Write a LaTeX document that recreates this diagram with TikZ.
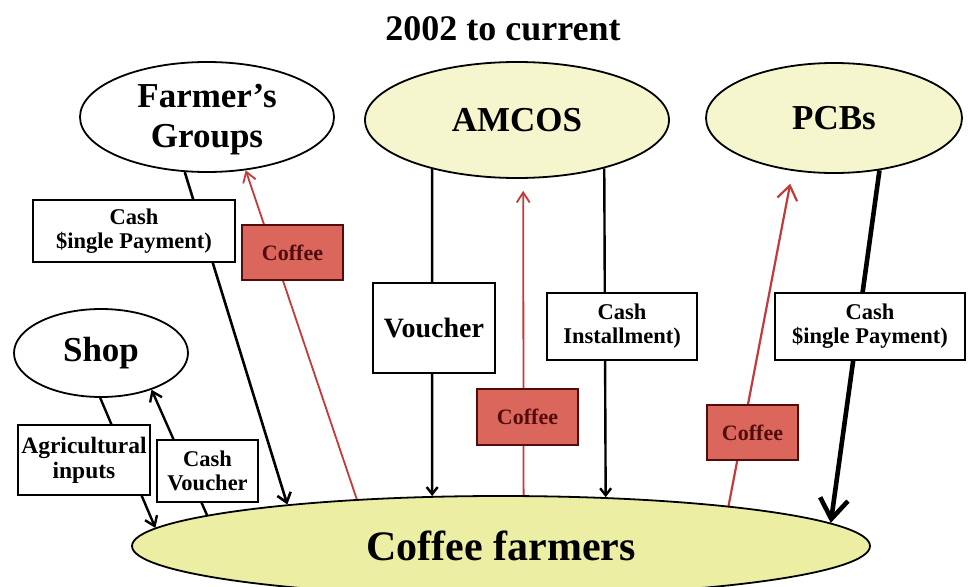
\documentclass[tikz,border=0pt]{standalone}
\usepackage{fontspec}
\setmainfont{Liberation Serif}
\usetikzlibrary{shapes.geometric,arrows.meta,backgrounds}
\definecolor{paleyellow}{RGB}{246,246,206}
\definecolor{farmyellow}{RGB}{236,238,164}
\definecolor{coffeered}{RGB}{218,102,92}
\definecolor{coffeeline}{RGB}{196,58,58}
\definecolor{coffeetext}{RGB}{82,12,12}

\begin{document}
\begin{tikzpicture}[x=1pt,y=-1pt,
  actor/.style={ellipse,draw=black,line width=1.8pt,inner sep=0pt,
    font=\fontsize{35}{40}\selectfont\bfseries,align=center},
  labelbox/.style={draw=black,line width=1.6pt,fill=white,inner sep=0pt,
    font=\fontsize{22.5}{24}\selectfont\bfseries,align=center},
  coffeebox/.style={draw=coffeetext,line width=1.6pt,fill=coffeered,
    text=coffeetext,inner sep=0pt,font=\fontsize{22}{24}\selectfont\bfseries},
  flow/.style={line width=2.6pt,-{Straight Barb[length=9pt,width=14pt]}},
  goods/.style={draw=coffeeline,line width=1.8pt,-{Straight Barb[length=10pt,width=13pt]}},
]
\useasboundingbox (0,0) rectangle (968,586);

% title
\node[font=\fontsize{36}{40}\selectfont\bfseries] (title) at (503,29) {2002 to current};

% actors
\node[actor,fill=white,minimum width=254pt,minimum height=110pt] (fg) at (207,117) {};
\node[font=\fontsize{35}{40}\selectfont\bfseries,align=center] (fgtext) at (207,120) {Farmer’s\\Groups};
\node[actor,fill=paleyellow,minimum width=304pt,minimum height=116pt] (amcos) at (517,120) {AMCOS};
\node[actor,fill=paleyellow,minimum width=256pt,minimum height=110pt] (pcb) at (834,118) {PCBs};
\node[actor,fill=white,minimum width=174pt,minimum height=88pt] (shop) at (101,353) {Shop};
\node[actor,fill=farmyellow,minimum width=738pt,minimum height=100pt,
  font=\fontsize{42}{46}\selectfont\bfseries] (cf) at (501,546) {Coffee farmers};

% labels on the flows
\node[labelbox,minimum width=202pt,minimum height=62pt] (cashL) at (134,231)
  {Cash\\\$ingle Payment)};
\node[coffeebox,minimum width=101pt,minimum height=55pt] (coffeeA) at (292.5,252.5) {Coffee};
\node[labelbox,minimum width=122pt,minimum height=90pt,
  font=\fontsize{28}{30}\selectfont\bfseries] (voucher) at (434,328) {Voucher};
\node[labelbox,minimum width=150pt,minimum height=67pt] (cashI) at (622,326.5)
  {Cash\\Installment)};
\node[coffeebox,minimum width=101pt,minimum height=56pt] (coffeeB) at (527.5,417) {Coffee};
\node[labelbox,minimum width=190pt,minimum height=67pt] (cashR) at (870,326.5)
  {Cash\\\$ingle Payment)};
\node[coffeebox,minimum width=91pt,minimum height=55pt] (coffeeC) at (752.5,432.5) {Coffee};
\node[labelbox,minimum width=132pt,minimum height=70pt,
  font=\fontsize{23.5}{25}\selectfont\bfseries] (agri) at (84,460)
  {Agricultural\\inputs};
\node[labelbox,minimum width=101pt,minimum height=62pt] (cashV) at (207.5,471)
  {Cash\\Voucher};

% flows, drawn beneath the nodes
\begin{pgfonlayer}{background}
  \fill[white] (0,0) rectangle (968,586);
  % Farmer's Groups
  \draw[flow] (fg.-112.1) -- (cf.169.2);
  \draw[goods] (cf.162.8) -- (fg.-54.1);
  % AMCOS
  \draw[line width=2.4pt,-{Straight Barb[length=7pt,width=11pt]}] (amcos.-150.1) -- (cf.144.2);
  \draw[line width=2.4pt,-{Straight Barb[length=7pt,width=11pt]}] (amcos.-29.5) -- (cf.25.5);
  \draw[goods,shorten >=12pt] (cf.66.2) -- (amcos.-84.1);
  % PCBs
  \draw[goods,line width=2.2pt,-{Straight Barb[length=14pt,width=20pt]},shorten >=13pt] (cf.10.2) -- (pcb.-128.9);
  \draw[line width=4.6pt,-{Straight Barb[length=20pt,width=28pt]}] (pcb.-49.5) -- (cf.4.9);
  % Shop
  \draw[line width=2.4pt,-{Straight Barb[length=9pt,width=13pt]}] (shop.-91) -- (cf.177.5);
  \draw[line width=2.4pt,-{Straight Barb[length=9pt,width=13pt]}] (cf.174.8) -- (shop.-36.6);
\end{pgfonlayer}
\end{tikzpicture}
\end{document}
